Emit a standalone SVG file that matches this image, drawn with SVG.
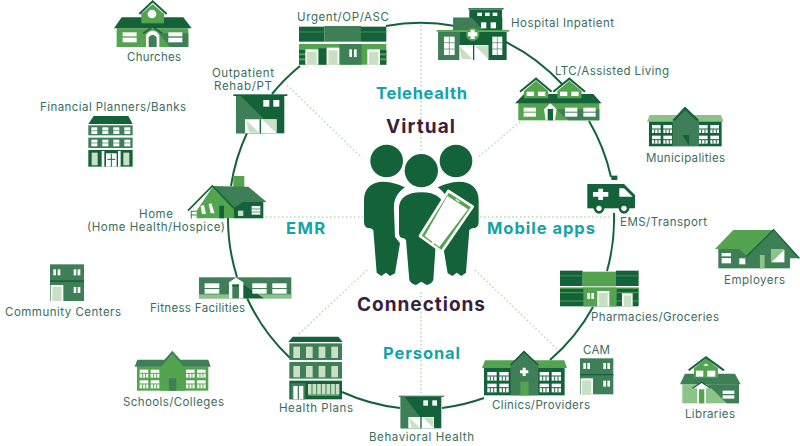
<svg xmlns="http://www.w3.org/2000/svg" width="800" height="446" viewBox="0 0 800 446">
<style>
.d{fill:#14623a}.m{fill:#3f7f57}.l{fill:#53a34f}.p{fill:#8cc389}.w{fill:#fff}.q{fill:#c9dfc6}
.t{font-family:"Inter","Liberation Sans",sans-serif;font-size:11.5px;fill:#3a6d5c}
.c{font-family:"Inter","Liberation Sans",sans-serif;font-weight:700;font-size:16.5px;fill:#13a3a8}
.v{font-family:"Inter","Liberation Sans",sans-serif;font-weight:700;font-size:19px;fill:#3a1f3d}
.arc{fill:none;stroke:#14623a;stroke-width:2}
.sp{fill:none;stroke:#bcd8bb;stroke-width:1.5;stroke-dasharray:1.5 2.5}
</style>
<g id="connectors">
<path class="sp" d="M421 25V150M421 292V395M266 217H363M476 217H612M287 85L362 158M520 122L477 158M475 270L558 350M367 270L298 335"/>
<path class="arc" d="M386 26A193 193 0 0 1 455 26M506 42A193 193 0 0 1 562 84M589 121A193 193 0 0 1 611 177M614 213A193 193 0 0 1 607 271M593 307A193 193 0 0 1 550 360M484 398A193 193 0 0 1 442 408M400 408A193 193 0 0 1 342 392M290 358A193 193 0 0 1 247 298M237 277A193 193 0 0 1 228 218M231 186A193 193 0 0 1 247 133M272 94A193 193 0 0 1 300 66"/>
</g>
<g id="people" transform="translate(340 130) scale(.3333)">
<circle class="d" cx="140" cy="93" r="49"/><circle class="d" cx="348" cy="93" r="49"/>
<path class="d" id="pl" d="M72 210C72 175 95 155 130 155C155 155 180 165 195 172C170 190 160 210 162 240L165 320L180 340L165 430L150 438L138 428L124 438L110 428L100 300L92 295Q72 295 72 275Z"/>
<path class="d" d="M416 210C416 175 393 155 358 155C333 155 308 165 293 172C318 190 328 210 326 240L323 320L308 340L323 430L338 438L350 428L364 438L378 428L388 300L396 295Q416 295 416 275Z"/>
<circle class="d" cx="244" cy="122" r="50" stroke="#fff" stroke-width="12"/>
<circle class="d" cx="244" cy="122" r="50"/>
<path class="d" stroke="#fff" stroke-width="12" d="M177 235C177 205 200 187 244 187C288 187 311 205 311 235V310Q311 325 295 325L288 330L280 450Q275 462 260 465L244 455L228 465Q213 462 208 450L198 330L192 325Q177 325 177 310Z"/>
<path class="d" d="M177 235C177 205 200 187 244 187C288 187 311 205 311 235V310Q311 325 295 325L288 330L280 450Q275 462 260 465L244 455L228 465Q213 462 208 450L198 330L192 325Q177 325 177 310Z"/>
<polygon class="l" stroke="#fff" stroke-width="8" stroke-linejoin="round" points="325,183 398,230 305,365 240,318"/>
<polygon class="w" points="322,198 384,238 298,351 254,318"/>
<rect class="w" x="346" y="210" width="14" height="4" transform="rotate(35 353 212)"/>
<circle class="w" cx="280" cy="338" r="4"/>
</g>
<g id="urgent" transform="translate(280 0) scale(.3333)">
<rect class="d" x="57" y="80" width="76" height="45"/><rect class="m" x="133" y="78" width="110" height="47"/><rect class="d" x="243" y="80" width="76" height="45"/>
<rect class="m" x="57" y="94" width="76" height="4"/><rect class="m" x="243" y="94" width="76" height="4"/>
<rect class="l" x="57" y="132" width="262" height="62"/><rect class="d" x="115" y="145" width="25" height="49"/><rect class="m" x="178" y="132" width="67" height="62"/>
<rect class="d" x="57" y="150" width="21" height="44"/><rect class="d" x="300" y="150" width="19" height="44"/>
<rect class="l" x="57" y="160" width="21" height="6"/><rect class="l" x="57" y="175" width="21" height="6"/><rect class="l" x="300" y="160" width="19" height="6"/><rect class="l" x="300" y="175" width="19" height="6"/>
<rect class="w" x="76" y="148" width="39" height="46"/><rect class="q" x="81" y="155" width="29" height="39"/>
<rect class="w" x="140" y="143" width="38" height="51"/><rect class="q" x="145" y="151" width="28" height="43"/>
<rect class="w" x="262" y="148" width="38" height="46"/><rect class="q" x="267" y="155" width="28" height="39"/>
<rect class="w" x="208" y="148" width="8" height="23"/><rect class="w" x="222" y="148" width="8" height="23"/>
</g>
<g id="hospital" transform="translate(280 0) scale(.3333)">
<rect class="m" x="565" y="24" width="106" height="5"/><rect class="d" x="568" y="29" width="98" height="26"/>
<rect class="w" x="592" y="38" width="14" height="10"/><rect class="w" x="615" y="38" width="14" height="10"/><rect class="w" x="638" y="38" width="14" height="10"/>
<rect class="d" x="520" y="53" width="147" height="38"/><polygon class="m" points="520,53 575,53 610,91 520,91"/>
<rect class="w" x="603" y="67" width="16" height="18"/><rect class="w" x="632" y="67" width="16" height="18"/>
<rect class="d" x="475" y="95" width="205" height="85"/><rect class="m" x="475" y="95" width="65" height="85"/>
<rect class="l" x="470" y="90" width="218" height="5"/>
<rect class="w" x="492" y="110" width="32" height="55"/><rect class="w" x="637" y="110" width="30" height="55"/>
<path d="M508 110V165M492 128H524M492 147H524M652 110V165M637 128H667M637 147H667" stroke="#3f7f57" stroke-width="2"/>
<polygon class="w" points="538,135 625,135 625,180 538,180"/><polygon class="q" points="538,137 578,178 545,178"/><polygon class="q" points="585,137 625,137 625,178"/>
<rect class="d" x="579" y="135" width="4" height="45"/>
<circle class="l" cx="578" cy="103" r="20"/><path class="w" d="M572 89H584V97H592V109H584V117H572V109H564V97H572Z"/>
</g>
<g id="ltc" transform="translate(500 60) scale(.3333)">
<rect class="l" x="55" y="125" width="243" height="56"/>
<polygon class="m" points="168,148 205,181 298,181 298,148"/>
<polygon class="d" points="45,130 72,102 280,102 305,130"/>
<polygon class="l" points="72,93 108,62 145,93 145,115 72,115"/><polygon class="l" points="172,93 208,62 245,93 245,115 172,115"/>
<path d="M60 95L108 56L155 95M160 95L208 56L255 95" fill="none" stroke="#14623a" stroke-width="6"/>
<rect class="w" x="80" y="95" width="22" height="13"/><rect class="w" x="114" y="95" width="22" height="13"/><rect class="w" x="180" y="95" width="22" height="13"/><rect class="w" x="214" y="95" width="22" height="13"/>
<rect class="w" x="71" y="143" width="37" height="12"/><rect class="w" x="71" y="158" width="37" height="12"/><rect class="w" x="195" y="143" width="37" height="12"/><rect class="w" x="195" y="158" width="37" height="12"/><rect class="w" x="250" y="143" width="37" height="12"/><rect class="w" x="250" y="158" width="37" height="12"/>
<polygon class="w" points="132,148 151,130 170,148 165,181 137,181"/><rect class="d" x="143" y="147" width="16" height="34"/>
</g>
<g id="municipalities" transform="translate(500 60) scale(.3333)">
<rect class="d" x="447" y="183" width="218" height="76"/>
<polygon class="p" points="441,185 449,165 663,165 671,185"/>
<polygon class="m" points="518,180 555,140 597,180 597,258 518,258"/>
<polygon class="d" points="518,180 555,140 597,180 590,182 555,150 525,182"/>
<polygon class="d" points="547,225 568,225 568,258"/>
<g class="w"><rect x="456" y="195" width="26" height="24"/><rect x="490" y="195" width="26" height="24"/><rect x="456" y="227" width="26" height="24"/><rect x="490" y="227" width="26" height="24"/><rect x="597" y="195" width="26" height="24"/><rect x="631" y="195" width="26" height="24"/><rect x="597" y="227" width="26" height="24"/><rect x="631" y="227" width="26" height="24"/></g>
<path d="M456 207H516M456 239H516M597 207H657M597 239H657M464 208V219M474 208V219M498 208V219M508 208V219M464 240V251M474 240V251M498 240V251M508 240V251M605 208V219M615 208V219M639 208V219M649 208V219M605 240V251M615 240V251M639 240V251M649 240V251" stroke="#14623a" stroke-width="3"/>
</g>
<g id="ambulance" transform="translate(500 60) scale(.3333)">
<rect class="d" x="334" y="347" width="18" height="13"/>
<rect class="d" x="262" y="372" width="80" height="73"/><polygon class="d" points="340,372 372,372 405,405 405,445 340,445"/>
<polygon class="w" points="358,385 372,385 398,410 358,410"/>
<path class="w" d="M295 386H309V396H325V410H309V420H295V410H279V396H295Z"/>
<circle class="d" cx="297" cy="445" r="16"/><circle class="w" cx="297" cy="445" r="8"/><circle class="d" cx="372" cy="445" r="16"/><circle class="w" cx="372" cy="445" r="8"/>
</g>
<g id="employers" transform="translate(470 225) scale(.3333)">
<rect class="m" x="745" y="72" width="215" height="58"/>
<polygon class="m" points="830,95 910,15 990,100 830,100"/>
<polygon class="l" points="735,72 790,15 910,15 830,92 808,72"/>
<path d="M830 94L911 14L988 100" fill="none" stroke="#14623a" stroke-width="4"/>
<rect class="w" x="755" y="84" width="28" height="10"/><rect class="w" x="755" y="99" width="28" height="16"/><rect class="w" x="808" y="100" width="18" height="18"/>
<rect class="p" x="870" y="90" width="14" height="40"/>
<rect class="p" x="903" y="72" width="40" height="40"/><polygon class="w" points="943,74 943,112 905,112"/>
</g>
<g id="pharmacies" transform="translate(470 225) scale(.3333)">
<rect class="d" x="270" y="137" width="68" height="46"/><rect class="l" x="338" y="140" width="100" height="44"/><rect class="d" x="438" y="137" width="68" height="46"/>
<rect class="m" x="270" y="150" width="68" height="4"/><rect class="m" x="438" y="150" width="68" height="4"/>
<rect class="d" x="270" y="188" width="236" height="56"/><rect class="l" x="340" y="188" width="100" height="56"/>
<path d="M270 203H340M270 228H340M440 203H506M440 228H506M270 190H506" stroke="#53a34f" stroke-width="3"/>
<rect class="w" x="382" y="198" width="36" height="46"/><rect class="q" x="386" y="204" width="27" height="40"/>
<rect class="w" x="352" y="204" width="8" height="18"/><rect class="w" x="364" y="204" width="8" height="18"/>
<rect class="w" x="456" y="205" width="32" height="39"/><rect class="q" x="461" y="211" width="23" height="33"/>
</g>
<g id="clinics" transform="translate(470 225) scale(.3333)">
<rect class="d" x="42" y="427" width="242" height="84"/>
<polygon class="l" points="36,429 45,406 283,406 291,429"/>
<polygon class="m" points="122,420 162,378 205,420 205,511 122,511"/>
<path d="M122 420L162 380L205 420" fill="none" stroke="#14623a" stroke-width="5"/>
<path class="w" d="M158 428H167V436H175V445H167V453H158V445H150V436H158Z"/>
<rect class="l" x="151" y="470" width="25" height="41"/>
<g class="w"><rect x="52" y="441" width="28" height="26"/><rect x="88" y="441" width="28" height="26"/><rect x="52" y="476" width="28" height="26"/><rect x="88" y="476" width="28" height="26"/><rect x="209" y="441" width="28" height="26"/><rect x="245" y="441" width="28" height="26"/><rect x="209" y="476" width="28" height="26"/><rect x="245" y="476" width="28" height="26"/></g>
<path d="M52 453H116M52 488H116M209 453H273M209 488H273M61 454V467M71 454V467M97 454V467M107 454V467M61 489V502M71 489V502M97 489V502M107 489V502M218 454V467M228 454V467M254 454V467M264 454V467M218 489V502M228 489V502M254 489V502M264 489V502" stroke="#14623a" stroke-width="3"/>
</g>
<g id="cam" transform="translate(470 225) scale(.3333)">
<rect class="m" x="330" y="400" width="100" height="108"/><rect class="d" x="330" y="447" width="100" height="4"/>
<rect class="w" x="340" y="414" width="8" height="18"/><rect class="w" x="352" y="414" width="8" height="18"/><rect class="w" x="400" y="414" width="8" height="18"/><rect class="w" x="412" y="414" width="8" height="18"/><rect class="w" x="400" y="467" width="8" height="18"/><rect class="w" x="412" y="467" width="8" height="18"/>
<rect class="w" x="332" y="460" width="37" height="48"/><rect class="q" x="336" y="466" width="28" height="42"/>
</g>
<g id="libraries" transform="translate(470 225) scale(.3333)">
<rect class="p" x="637" y="478" width="170" height="57"/><polygon class="m" points="712,478 807,478 807,535 770,535"/>
<polygon class="m" points="630,478 645,446 795,446 812,478"/>
<rect class="l" x="672" y="428" width="72" height="30"/><polygon class="l" points="672,430 708,400 744,430"/>
<path d="M656 436L708 397L762 436" fill="none" stroke="#14623a" stroke-width="6"/>
<rect class="w" x="678" y="437" width="22" height="18"/><rect class="w" x="712" y="437" width="24" height="18"/><polygon class="w" points="700,422 708,415 716,422"/>
<rect class="w" x="758" y="497" width="35" height="10"/><rect class="w" x="758" y="511" width="35" height="10"/>
<polygon class="w" points="668,490 695,472 722,490 708,490 708,535 682,535 682,490"/><rect class="l" x="687" y="493" width="16" height="42"/>
<path d="M668 490L695 472L722 490" fill="none" stroke="#14623a" stroke-width="4"/>
</g>
<g id="churches" transform="scale(.3333)">
<rect class="l" x="350" y="85" width="215" height="56"/><polygon class="m" points="476,100 510,141 565,141 565,100"/>
<polygon class="d" points="342,85 365,52 550,52 575,85"/>
<rect class="l" x="424" y="40" width="68" height="30"/><polygon class="l" points="424,42 458,12 492,42"/>
<path d="M418 42L458 4L500 42" fill="none" stroke="#14623a" stroke-width="6"/>
<circle class="w" cx="456" cy="42" r="13"/>
<rect class="w" x="368" y="97" width="42" height="12"/><rect class="w" x="368" y="113" width="42" height="14"/><rect class="w" x="505" y="97" width="42" height="12"/><rect class="w" x="505" y="113" width="42" height="14"/>
<path class="w" d="M438 141V105Q458 80 478 105V141Z"/><path class="m" d="M446 141V112Q458 96 470 112V141Z"/>
<path d="M430 100L458 80L486 100" fill="none" stroke="#14623a" stroke-width="5"/>
</g>
<g id="outpatient" transform="scale(.3333)">
<rect class="d" x="708" y="287" width="145" height="113"/><polygon class="m" points="708,288 722,288 800,365 800,400 708,400"/><rect class="d" x="700" y="283" width="162" height="5"/>
<rect class="w" x="790" y="300" width="18" height="20"/><rect class="w" x="820" y="300" width="18" height="20"/>
<polygon class="w" points="735,358 830,358 830,400 735,400"/>
<polygon class="q" points="737,360 778,398 748,398"/><polygon class="q" points="788,360 828,360 828,398"/><rect class="d" x="779" y="358" width="4" height="42"/>
</g>
<g id="financial" transform="scale(.3333)">
<polygon class="d" points="265,372 281,348 385,348 398,372"/>
<rect class="m" x="265" y="376" width="133" height="30"/><rect class="m" x="265" y="413" width="133" height="31"/><rect class="d" x="265" y="450" width="133" height="50"/>
<g class="w"><rect x="274" y="382" width="18" height="20"/><rect x="307" y="382" width="18" height="20"/><rect x="340" y="382" width="18" height="20"/><rect x="373" y="382" width="18" height="20"/><rect x="274" y="419" width="18" height="20"/><rect x="307" y="419" width="18" height="20"/><rect x="340" y="419" width="18" height="20"/><rect x="373" y="419" width="18" height="20"/>
<rect x="305" y="453" width="8" height="47"/><rect x="354" y="453" width="8" height="47"/><rect x="318" y="460" width="32" height="40"/></g>
<rect class="q" x="275" y="458" width="18" height="38"/><rect class="q" x="370" y="458" width="18" height="38"/>
<path d="M334 462V500M322 478H346" stroke="#14623a" stroke-width="3"/>
<path d="M274 392H391M274 429H391" stroke="#3f7f57" stroke-width="2"/>
</g>
<g id="home" transform="scale(.3333)">
<rect class="l" x="700" y="528" width="33" height="55"/>
<rect class="d" x="700" y="605" width="90" height="50"/>
<polygon class="m" points="637,558 745,560 800,606 730,606 700,625"/>
<polygon class="l" points="590,655 590,632 637,562 700,625 700,655"/>
<path d="M564 632L637 558L702 625" fill="none" stroke="#14623a" stroke-width="5"/>
<polygon class="w" points="602,618 612,615 618,642 606,642"/><polygon class="w" points="626,612 634,610 644,640 632,640"/>
<rect class="d" x="658" y="617" width="14" height="38"/>
<rect class="w" x="755" y="618" width="26" height="26"/><rect class="q" x="714" y="632" width="16" height="16"/>
<path d="M755 627H781M755 636H781" stroke="#14623a" stroke-width="2"/>
<path d="M572 634H590M572 645H590M574 634V656" stroke="#3f7f57" stroke-width="3" fill="none"/>
</g>
<g id="community" transform="translate(0 225) scale(.3333)">
<rect class="m" x="150" y="118" width="102" height="110"/><rect class="d" x="150" y="166" width="102" height="5"/>
<rect class="w" x="160" y="133" width="8" height="18"/><rect class="w" x="173" y="133" width="8" height="18"/><rect class="w" x="221" y="133" width="8" height="18"/><rect class="w" x="233" y="133" width="8" height="18"/><rect class="w" x="221" y="186" width="8" height="18"/><rect class="w" x="233" y="186" width="8" height="18"/>
<rect class="w" x="152" y="180" width="38" height="48"/><rect class="q" x="157" y="186" width="28" height="42"/>
</g>
<g id="fitness" transform="translate(0 225) scale(.3333)">
<rect class="m" x="597" y="157" width="277" height="63"/><rect class="p" x="597" y="208" width="277" height="12"/>
<polygon class="d" points="725,175 792,220 725,220"/>
<rect class="w" x="614" y="175" width="44" height="14"/><rect class="w" x="614" y="192" width="44" height="14"/><rect class="w" x="757" y="175" width="43" height="14"/><rect class="w" x="757" y="192" width="43" height="14"/><rect class="w" x="817" y="175" width="43" height="14"/><rect class="w" x="817" y="192" width="43" height="14"/>
<polygon class="w" points="687,220 687,172 708,158 730,172 730,220"/><rect class="m" x="697" y="180" width="20" height="40"/><rect class="d" x="697" y="178" width="20" height="6"/>
</g>
<g id="schools" transform="translate(0 225) scale(.3333)">
<rect class="l" x="411" y="424" width="214" height="73"/>
<polygon class="m" points="404,425 412,404 625,404 632,425"/>
<polygon class="l" points="482,425 517,382 555,425 555,497 482,497"/>
<path d="M482 422L517 382L553 422" fill="none" stroke="#3f7f57" stroke-width="6"/>
<rect class="m" x="507" y="460" width="22" height="37"/>
<g class="w"><rect x="419" y="434" width="26" height="24"/><rect x="452" y="434" width="26" height="24"/><rect x="419" y="466" width="26" height="24"/><rect x="452" y="466" width="26" height="24"/><rect x="558" y="434" width="26" height="24"/><rect x="591" y="434" width="26" height="24"/><rect x="558" y="466" width="26" height="24"/><rect x="591" y="466" width="26" height="24"/></g>
<path d="M419 445H478M419 477H478M558 445H617M558 477H617M428 446V458M437 446V458M461 446V458M470 446V458M428 478V490M437 478V490M461 478V490M470 478V490M567 446V458M576 446V458M600 446V458M609 446V458M567 478V490M576 478V490M600 478V490M609 478V490" stroke="#53a34f" stroke-width="3"/>
</g>
<g id="health-plans" transform="translate(260 320) scale(.3333)">
<polygon class="d" points="85,66 98,50 235,50 248,66"/>
<rect class="m" x="88" y="70" width="158" height="50"/><rect class="m" x="88" y="126" width="158" height="50"/><rect class="d" x="88" y="182" width="158" height="56"/>
<g class="q"><rect x="100" y="80" width="20" height="34"/><rect x="138" y="80" width="20" height="34"/><rect x="176" y="80" width="20" height="34"/><rect x="214" y="80" width="20" height="34"/><rect x="100" y="138" width="20" height="34"/><rect x="138" y="138" width="20" height="34"/><rect x="176" y="138" width="20" height="34"/><rect x="214" y="138" width="20" height="34"/><rect x="144" y="192" width="94" height="32"/></g>
<path d="M156 192V224M170 192V224M184 192V224M198 192V224M212 192V224M226 192V224" stroke="#3f7f57" stroke-width="3"/>
<rect class="m" x="92" y="190" width="44" height="48"/><rect class="w" x="100" y="198" width="30" height="40"/><rect class="m" x="113" y="198" width="4" height="40"/>
<rect class="l" x="144" y="224" width="94" height="4"/>
</g>
<g id="behavioral" transform="translate(260 320) scale(.3333)">
<rect class="d" x="422" y="231" width="122" height="94"/><polygon class="m" points="422,231 434,231 480,290 480,325 422,325"/><rect class="m" x="417" y="227" width="135" height="4"/>
<rect class="w" x="490" y="241" width="14" height="16"/><rect class="w" x="517" y="241" width="14" height="16"/>
<polygon class="w" points="445,291 522,291 522,325 445,325"/>
<polygon class="q" points="447,293 480,323 455,323"/><polygon class="q" points="490,293 520,293 520,323"/><rect class="d" x="481" y="291" width="4" height="34"/>
</g>
<g id="labels">
<text class="t" x="297" y="21" textLength="92">Urgent/OP/ASC</text>
<text class="t" x="511" y="27" textLength="103">Hospital Inpatient</text>
<text class="t" x="555" y="75" textLength="114">LTC/Assisted Living</text>
<text class="t" x="646" y="162" textLength="79">Municipalities</text>
<text class="t" x="620" y="226" textLength="87">EMS/Transport</text>
<text class="t" x="724" y="284" textLength="61">Employers</text>
<text class="t" x="591" y="321" textLength="128">Pharmacies/Groceries</text>
<text class="t" x="583" y="354" textLength="27">CAM</text>
<text class="t" x="492" y="409" textLength="98">Clinics/Providers</text>
<text class="t" x="685" y="418" textLength="50">Libraries</text>
<text class="t" x="369" y="441" textLength="105">Behavioral Health</text>
<text class="t" x="279" y="412" textLength="74">Health Plans</text>
<text class="t" x="123" y="406" textLength="101">Schools/Colleges</text>
<text class="t" x="150" y="312" textLength="95">Fitness Facilities</text>
<text class="t" x="5" y="316" textLength="116">Community Centers</text>
<text class="t" x="139" y="218" textLength="34">Home</text>
<text class="t" x="87" y="231" textLength="138">(Home Health/Hospice)</text>
<text class="t" x="40" y="111" textLength="146">Financial Planners/Banks</text>
<text class="t" x="127" y="61" textLength="54">Churches</text>
<text class="t" x="212" y="77" textLength="62">Outpatient</text>
<text class="t" x="214" y="90" textLength="58">Rehab/PT</text>
<text class="c" x="376" y="99" textLength="91">Telehealth</text>
<text class="c" x="487" y="234" textLength="108">Mobile apps</text>
<text class="c" x="286" y="234" textLength="39">EMR</text>
<text class="c" x="383" y="359" textLength="77">Personal</text>
<text class="v" x="386" y="133" textLength="69">Virtual</text>
<text class="v" x="357" y="311" textLength="128">Connections</text>
</g>
</svg>
